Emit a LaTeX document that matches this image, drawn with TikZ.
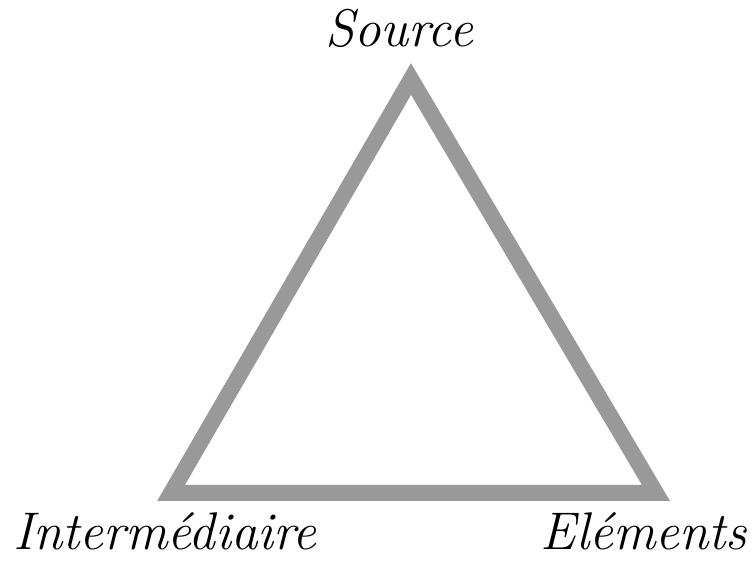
\documentclass[tikz,border=0pt]{standalone}
\definecolor{edgegray}{RGB}{153,153,153}
\tikzset{
  lbl/.style={anchor=base, inner sep=0pt, font=\fontsize{53}{62}\selectfont\itshape},
  side/.style={draw=edgegray, line width=16pt, line join=miter}
}
\begin{document}
\begin{tikzpicture}[x=1pt,y=1pt]
\useasboundingbox (0,0) rectangle (752,561);
\coordinate (apex) at (411,482);
\coordinate (bl) at (171,68);
\coordinate (br) at (656,68);
\draw[side] (apex) -- (bl) -- (br) -- cycle;
\node[lbl] (src) at (399,514) {Source};
\node[lbl] (mid) at (165,11) {Intermédiaire};
\node[lbl] (elt) at (644,11) {Eléments};
\end{tikzpicture}
\end{document}
